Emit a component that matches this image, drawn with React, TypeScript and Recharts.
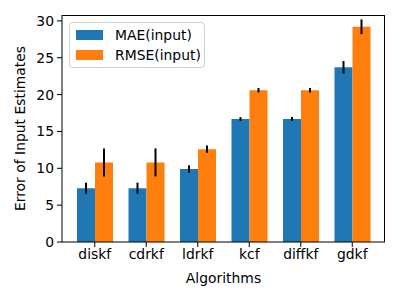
import { Bar, BarChart, ErrorBar, Label, XAxis, YAxis } from "recharts";

const categories = ["diskf", "cdrkf", "ldrkf", "kcf", "diffkf", "gdkf"];
const mae = [7.3, 7.3, 9.9, 16.7, 16.7, 23.7];
const maeErr = [0.75, 0.75, 0.5, 0.25, 0.25, 0.85];
const rmse = [10.8, 10.8, 12.6, 20.6, 20.6, 29.2];
const rmseErr = [1.9, 1.9, 0.5, 0.3, 0.3, 1.0];
const yTicks = [0, 5, 10, 15, 20, 25, 30];

const data = categories.map((name, i) => ({
  name,
  mae: mae[i],
  maeErr: maeErr[i],
  rmse: rmse[i],
  rmseErr: rmseErr[i],
}));

const font = "DejaVu Sans";
const fontSize = 13.9;

const legendItems = [
  { label: "MAE(input)", color: "#1f77b4" },
  { label: "RMSE(input)", color: "#ff7f0e" },
];

function LegendBox() {
  return (
    <div
      style={{
        position: "absolute",
        left: 69,
        top: 22,
        width: 136,
        height: 46,
        border: "1px solid #d0d0d0",
        borderRadius: 4,
        background: "rgba(255,255,255,0.8)",
        padding: "2px 0 0 6px",
        fontFamily: font,
        fontSize,
        color: "#000",
        boxSizing: "border-box",
      }}
    >
      {legendItems.map((it) => (
        <div
          key={it.label}
          style={{ display: "flex", alignItems: "center", height: 20 }}
        >
          <span
            style={{
              display: "inline-block",
              width: 27,
              height: 10,
              background: it.color,
              marginRight: 12,
            }}
          />
          {it.label}
        </div>
      ))}
    </div>
  );
}

function App() {
  return (
    <div style={{ position: "absolute", left: 0, top: 0, width: 400, height: 300, background: "#fff" }}>
      <BarChart
        width={400}
        height={300}
        data={data}
        margin={{ top: 15, right: 15, bottom: 0, left: 0 }}
        barGap={0}
        barSize={18}
      >
        <XAxis
          dataKey="name"
          height={58}
          interval={0}
          padding={{ left: 7, right: 7 }}
          stroke="#000"
          tick={{ fill: "#000", fontFamily: font, fontSize }}
          tickSize={5}
          tickMargin={2}
        >
          <Label
            value="Algorithms"
            position="insideBottom"
            offset={17}
            style={{ fill: "#000", fontFamily: font, fontSize }}
          />
        </XAxis>
        <YAxis
          width={62}
          domain={[0, 30.8]}
          ticks={yTicks}
          allowDataOverflow
          stroke="#000"
          tick={{ fill: "#000", fontFamily: font, fontSize }}
          tickSize={5}
          tickMargin={3}
        >
          <Label
            value="Error of Input Estimates"
            angle={-90}
            position="insideLeft"
            offset={20}
            style={{ fill: "#000", fontFamily: font, fontSize, textAnchor: "middle" }}
          />
        </YAxis>
        <Bar dataKey="mae" fill="#1f77b4" isAnimationActive={false}>
          <ErrorBar dataKey="maeErr" direction="y" width={0} stroke="#000" strokeWidth={2} />
        </Bar>
        <Bar dataKey="rmse" fill="#ff7f0e" isAnimationActive={false}>
          <ErrorBar dataKey="rmseErr" direction="y" width={0} stroke="#000" strokeWidth={2} />
        </Bar>
      </BarChart>
      {/* top and right spines */}
      <div
        style={{
          position: "absolute",
          left: 62,
          top: 15,
          width: 323,
          height: 227,
          borderTop: "1px solid #000",
          borderRight: "1px solid #000",
          boxSizing: "border-box",
          pointerEvents: "none",
        }}
      />
      <LegendBox />
    </div>
  );
}

export default App;
